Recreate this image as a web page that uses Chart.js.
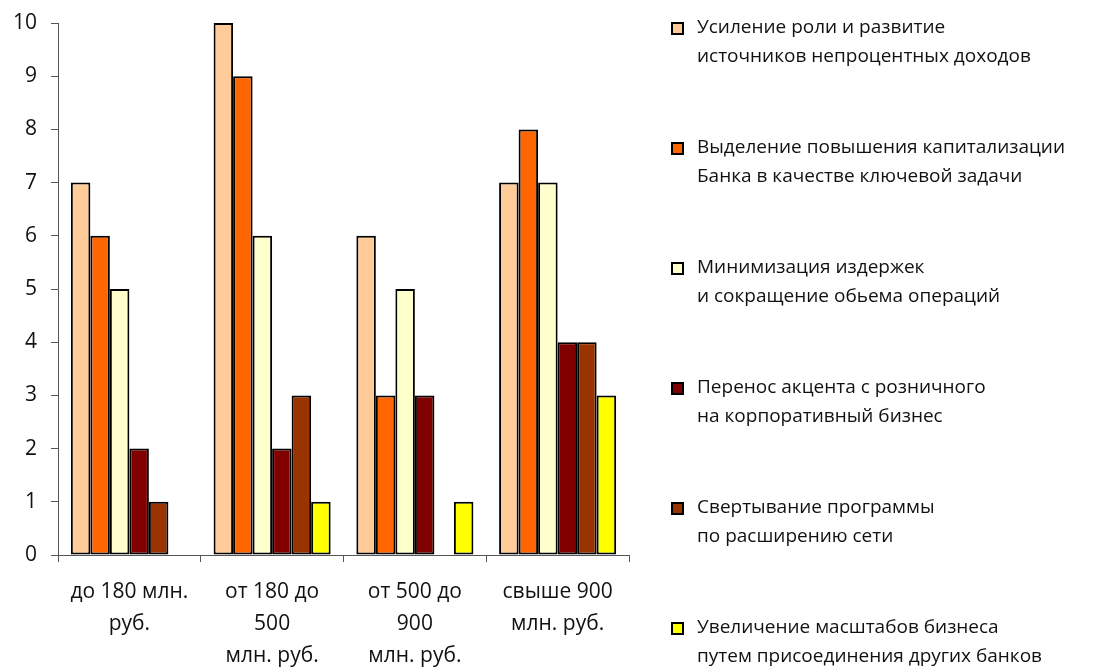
<!DOCTYPE html>
<html>
<head>
<meta charset="utf-8">
<script src="https://cdn.jsdelivr.net/npm/chart.js@4/dist/chart.umd.min.js"></script>
<style>
	html, body { margin: 0; padding: 0; background: #fff; }
	#wrap { width: 1118px; height: 669px; position: relative; }
</style>
</head>
<body>
<div id="wrap"><canvas id="chart"></canvas></div>
<script>
// categories (x axis, multi-line as in the picture)
var categories = [
	['до 180 млн.', 'руб.'],
	['от 180 до', '500', 'млн. руб.'],
	['от 500 до', '900', 'млн. руб.'],
	['свыше 900', 'млн. руб.']
];

// series names (legend, two lines each)
var seriesNames = [
	['Усиление роли и развитие', 'источников непроцентных доходов'],
	['Выделение повышения капитализации', 'Банка в качестве ключевой задачи'],
	['Минимизация издержек', 'и сокращение обьема операций'],
	['Перенос акцента с розничного', 'на корпоративный бизнес'],
	['Свертывание программы', 'по расширению сети'],
	['Увеличение масштабов бизнеса', 'путем присоединения других банков']
];

// values per series, one per category
var s1 = [7, 10, 6, 7];
var s2 = [6, 9, 3, 8];
var s3 = [5, 6, 5, 7];
var s4 = [2, 2, 3, 4];
var s5 = [1, 3, 0, 4];
var s6 = [0, 1, 1, 3];

var yTicks = [0, 1, 2, 3, 4, 5, 6, 7, 8, 9, 10];

var colors = ['#FFCC99', '#FF6600', '#FFFFCC', '#800000', '#993300', '#FFFF00'];
var FONT = "'Open Sans', 'DejaVu Sans', sans-serif";

var seriesValues = [s1, s2, s3, s4, s5, s6];
var datasets = seriesValues.map(function(v, i){
	return {
		label: seriesNames[i].join(' '),
		data: v,
		backgroundColor: colors[i],
		borderColor: '#000',
		borderWidth: 2,
		borderSkipped: false,
		categoryPercentage: 0.82,
		barPercentage: 1.0
	};
});

// legend drawn on the right, text kept in two lines
var sideLegend = {
	id: 'sideLegend',
	afterDraw: function(chart) {
		var ctx = chart.ctx;
		ctx.save();
		ctx.font = '19px ' + FONT;
		ctx.textBaseline = 'middle';
		ctx.textAlign = 'left';
		var x0 = 672, top = 28, step = 120, lh = 29;
		seriesNames.forEach(function(lines, i){
			var y = top + i * step;
			ctx.fillStyle = colors[i];
			ctx.fillRect(x0, y - 5, 11, 11);
			ctx.strokeStyle = '#000';
			ctx.lineWidth = 2;
			ctx.strokeRect(x0, y - 5, 11, 11);
			ctx.fillStyle = '#111';
			lines.forEach(function(t, j){
				ctx.fillText(t, x0 + 25, y + j * lh);
			});
		});
		ctx.restore();
	}
};

new Chart(document.getElementById('chart'), {
	type: 'bar',
	data: { labels: categories, datasets: datasets },
	plugins: [sideLegend],
	options: {
		responsive: true,
		maintainAspectRatio: false,
		animation: false,
		layout: { padding: { top: 23, right: 489, left: 0, bottom: 0 } },
		plugins: {
			legend: { display: false },
			tooltip: { enabled: false }
		},
		scales: {
			x: {
				grid: { drawOnChartArea: false, drawTicks: true, tickLength: 7, color: '#555', offset: true },
				border: { color: '#555', width: 1 },
				ticks: { color: '#111', padding: 14, maxRotation: 0, autoSkip: false, font: { family: FONT, size: 21, lineHeight: 1.52 } },
				afterFit: function(scale){ scale.height = 114; }
			},
			y: {
				min: 0,
				max: 10,
				afterBuildTicks: function(scale){ scale.ticks = yTicks.map(function(v){ return { value: v }; }); },
				grid: { drawOnChartArea: false, drawTicks: true, tickLength: 7, color: '#555' },
				border: { color: '#555', width: 1 },
				ticks: { color: '#111', padding: 14, font: { family: FONT, size: 21 } },
				afterFit: function(scale){
					scale.width = 58;
					scale.paddingTop = 0;
					scale.paddingBottom = 0;
				}
			}
		}
	}
});
</script>
</body>
</html>
